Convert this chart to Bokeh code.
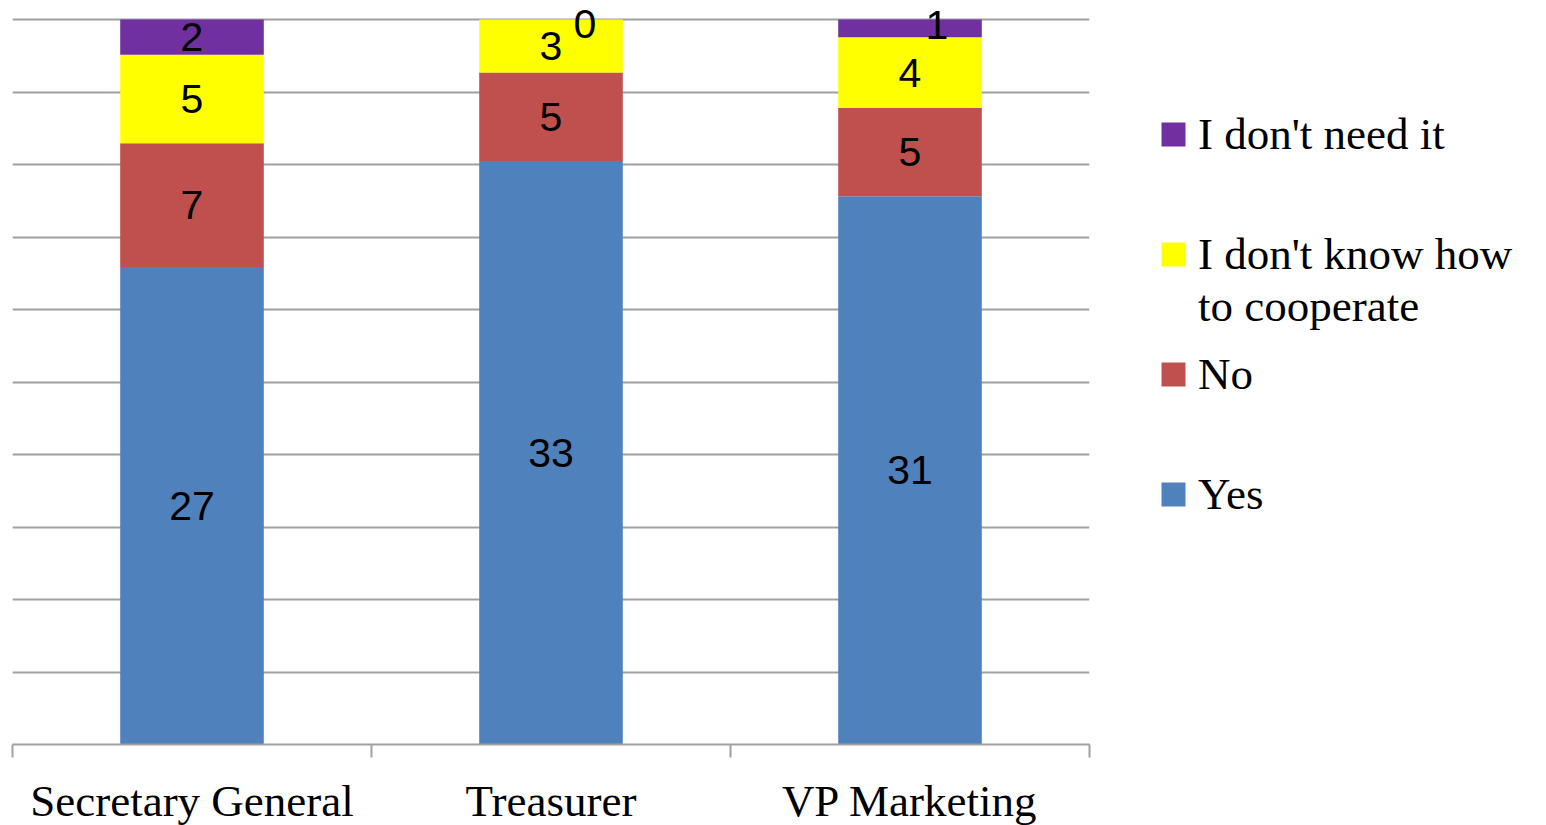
from bokeh.plotting import figure
from bokeh.models import (ColumnDataSource, Range1d, FixedTicker, Legend, LegendItem)
from bokeh.core.properties import value
from bokeh.embed import file_html
from bokeh.resources import INLINE

# ---- data ----
categories = ["Secretary General", "Treasurer", "VP Marketing"]
yes = [27, 33, 31]
no = [7, 5, 5]
dont_know = [5, 3, 4]
dont_need = [2, 0, 1]

series_names = ["Yes", "No", "I don't know how\nto cooperate", "I don't need it"]
series_vals = [yes, no, dont_know, dont_need]
colors = ["#4F81BD", "#C0504D", "#FFFF00", "#7030A0"]

n = len(categories)
totals = [sum(s[i] for s in series_vals) for i in range(n)]
xs = [i + 0.5 for i in range(n)]
keys = ["s%d" % k for k in range(len(series_vals))]

src = ColumnDataSource(dict(x=xs, **{k: [v / t for v, t in zip(vals, totals)]
                                     for k, vals in zip(keys, series_vals)}))

# layout (pixels)
GRID_H = 725          # height of the 0..100% area
HEADROOM = 11         # extra frame space above 100% so top labels are not clipped
p = figure(x_range=Range1d(0, n), y_range=Range1d(0, 1 + HEADROOM / GRID_H),
           frame_width=1077, frame_height=GRID_H + HEADROOM,
           min_border_left=12, min_border_top=8, min_border_right=457, min_border_bottom=10,
           y_axis_location=None, output_backend="svg", toolbar_location=None,
           outline_line_color=None)

renderers = p.vbar_stack(keys, x="x", width=0.4, source=src, color=colors, line_color=None)

# data labels
lx, ly, lt, xo, yo = [], [], [], [], []
for i in range(n):
    base = 0.0
    for k, vals in enumerate(series_vals):
        frac = vals[i] / totals[i]
        lx.append(xs[i]); ly.append(base + frac / 2); lt.append(str(vals[i]))
        # Excel nudges labels of tiny top segments aside
        if k == len(series_vals) - 1 and vals[i] < 2:
            xo.append(34 if vals[i] == 0 else 27); yo.append(4 if vals[i] == 0 else -3)
        else:
            xo.append(0); yo.append(0)
        base += frac
lsrc = ColumnDataSource(dict(x=lx, y=ly, t=lt, xo=xo, yo=yo))
p.text(x="x", y="y", text="t", x_offset="xo", y_offset="yo", source=lsrc,
       text_align="center", text_baseline="middle", text_color="black",
       text_font=value("Liberation Sans"), text_font_size="41px")

# axes / grid
ax = p.xaxis[0]
ax.ticker = FixedTicker(ticks=xs, minor_ticks=list(range(n + 1)))
ax.major_label_overrides = {x: c for x, c in zip(xs, categories)}
ax.major_tick_out = 0
ax.major_tick_in = 0
ax.minor_tick_out = 13
ax.minor_tick_in = 0
ax.minor_tick_line_color = "#A0A0A0"
ax.minor_tick_line_width = 2
ax.axis_line_color = "#A0A0A0"
ax.axis_line_width = 2
ax.major_label_text_font = "Liberation Serif"
ax.major_label_text_font_size = "45px"
ax.major_label_text_color = "black"
ax.major_label_standoff = 18

p.xgrid.visible = False
p.ygrid.ticker = FixedTicker(ticks=[i / 10 for i in range(11)])
p.ygrid.grid_line_color = "#A0A0A0"
p.ygrid.grid_line_width = 2

# legend: Excel aligns the swatch with the first text line, Bokeh centres it,
# so multi-line/last labels get a blank line above to keep Excel's rhythm.
order = [3, 2, 1, 0]
pad_labels = {0: "\u00a0\nYes\n\u00a0", 2: "\u00a0\nI don't know how\nto cooperate"}
legend = Legend(items=[LegendItem(label=pad_labels.get(k, series_names[k]), renderers=[renderers[k]])
                       for k in order],
                location=(69, 172), padding=0, margin=0, spacing=16,
                glyph_width=30, glyph_height=30, label_standoff=10,
                label_text_font="Liberation Serif", label_text_font_size="45px",
                label_text_color="black",
                border_line_color=None, background_fill_alpha=0)
p.add_layout(legend, "right")

open("out.html", "w").write(file_html(p, INLINE))
